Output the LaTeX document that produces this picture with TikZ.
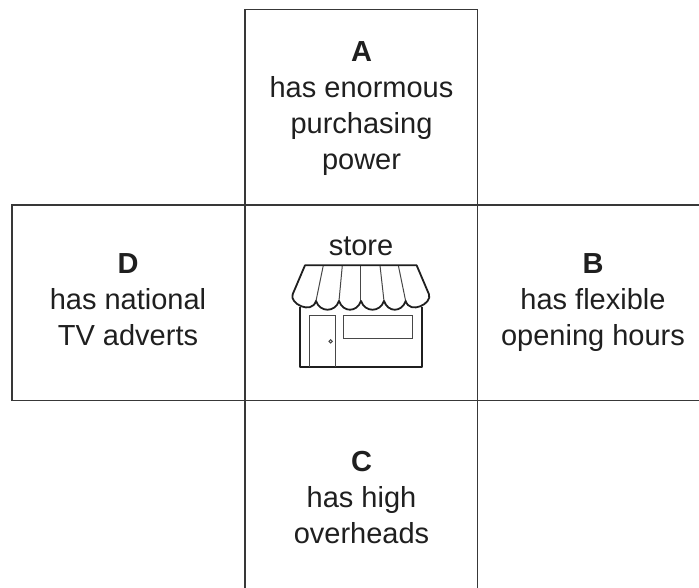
\documentclass[tikz,border=0pt]{standalone}
\usepackage{fontspec}
\setmainfont{Liberation Sans}
\tikzset{
  panel/.style={draw=black!78,line width=1.1pt,minimum width=232.7pt,minimum height=195.7pt,inner sep=0pt,outer sep=0pt,anchor=north west},
  label/.style={align=center,font=\fontsize{29}{36}\selectfont,text=black!88,inner sep=0pt},
  thickline/.style={draw=black!88,line width=1.8pt,line join=round,line cap=round},
  thinline/.style={draw=black!72,line width=1pt}
}
\begin{document}
\begin{tikzpicture}[x=1pt,y=-1pt]
\useasboundingbox (0,0) rectangle (699,588);
\clip (0,0) rectangle (699,588);
\node[panel] (mid) at (245,205) {};
\node[panel,minimum height=195.5pt] (a) at (245,9.5) {};
\node[panel] (d) at (12,205) {};
\node[panel,minimum width=240pt] (b) at (477.7,205) {};
\node[panel,minimum height=200pt] (c) at (245,400.7) {};
\node[label] (ta) at (361.5,109) {\textbf{A}\\has enormous\\purchasing\\power};
\node[label] (td) at (128,299.5) {\textbf{D}\\has national\\TV adverts};
\node[label] (tb) at (593,303) {\textbf{B}\\has flexible\\opening hours};
\node[label] (tc) at (361.5,497.5) {\textbf{C}\\has high\\overheads};
\node[label] (ts) at (361,246) {store};
\begin{scope}[shift={(240,200)},x=0.3333pt,y=-0.3333pt]
  % scallop dividers
  \draw[thinline] (250,196) -- (228,303);
  \draw[thinline] (307,196) -- (297,303);
  \draw[thinline] (363,196) -- (363,303);
  \draw[thinline] (420,196) -- (432,303);
  \draw[thinline] (475,196) -- (497,303);
  % awning outline
  \draw[thickline] (195,196) -- (530,196) -- (567,283)
    .. controls (578,310) and (510,345) .. (497,303)
    .. controls (485,338) and (444,338) .. (432,303)
    .. controls (420,338) and (375,338) .. (363,303)
    .. controls (351,338) and (309,338) .. (297,303)
    .. controls (285,338) and (240,338) .. (228,303)
    .. controls (215,345) and (147,310) .. (158,283) -- cycle;
  % shop body
  \draw[thickline,line cap=butt] (180,322) -- (180,502) -- (546,502) -- (546,322);
  % door, knob, window
  \draw[thinline] (210,500) -- (210,347) -- (288,347) -- (288,500);
  \draw[thinline] (272,424) circle[radius=5];
  \draw[thinline] (311,347) rectangle (518,416);
\end{scope}
\end{tikzpicture}
\end{document}
